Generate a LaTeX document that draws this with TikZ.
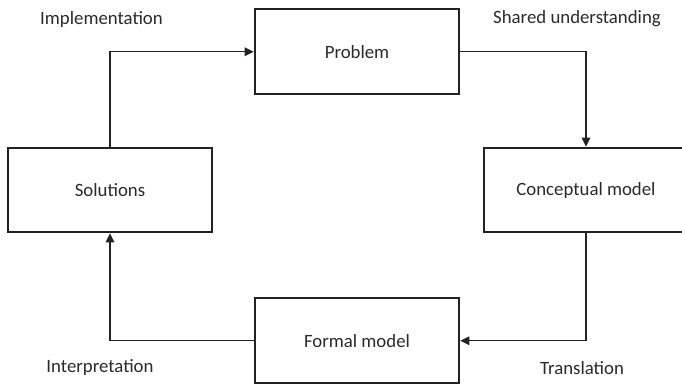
\documentclass[tikz,border=0pt]{standalone}
\usepackage{fontspec}
\setmainfont{Carlito}
\usetikzlibrary{arrows.meta}
\definecolor{ink}{HTML}{222222}
\definecolor{txt}{HTML}{2A2A2A}
\begin{document}
\begin{tikzpicture}[x=1pt,y=-1pt,
  font=\fontsize{18.8}{22}\selectfont,
  stage/.style={draw=ink, line width=2pt, text=txt, inner sep=0pt,
    minimum width=204.6pt, minimum height=84.6pt, anchor=center},
  caption/.style={text=txt, inner sep=0pt, anchor=center},
  link/.style={draw=ink, line width=1.4pt, -{Triangle[length=9pt,width=8.5pt]}}]
  % canvas
  \clip (0,0) rectangle (682,383);
  % stages
  \node[stage] (problem)    at (357,51.7)  {Problem};
  \node[stage] (solutions)  at (110,190)   {Solutions};
  \node[stage] (conceptual) at (586,190)   {Conceptual model};
  \node[stage] (formal)     at (357,340.7) {Formal model};
  % captions
  \node[caption] (impl)   at (101.5,19) {Implementation};
  \node[caption] (shared) at (577,19)   {Shared understanding};
  \node[caption] (interp) at (100,368)  {Interpretation};
  \node[caption] (transl) at (582,368)  {Translation};
  % cycle
  \draw[link] (solutions.north) |- (problem.west);
  \draw[link] (problem.east) -| (conceptual.north);
  \draw[link] (conceptual.south) |- (formal.east);
  \draw[link] (formal.west) -| (solutions.south);
\end{tikzpicture}
\end{document}
